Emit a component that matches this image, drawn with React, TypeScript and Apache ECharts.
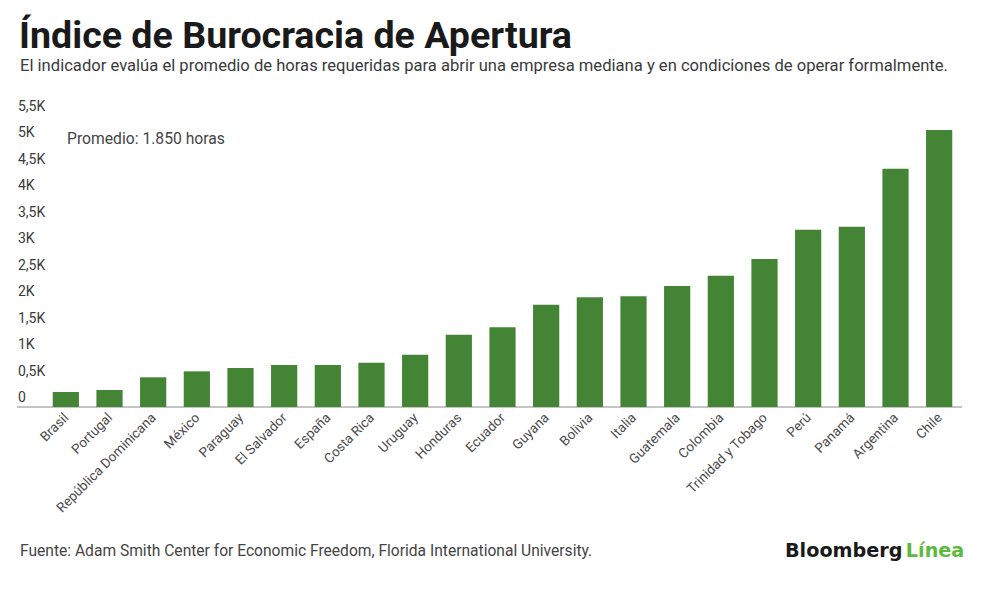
import React, { useEffect, useRef } from "react";
import * as echarts from "echarts";

const categories = [
  "Brasil", "Portugal", "República Dominicana", "México", "Paraguay", "El Salvador",
  "España", "Costa Rica", "Uruguay", "Honduras", "Ecuador", "Guyana", "Bolivia",
  "Italia", "Guatemala", "Colombia", "Trinidad y Tobago", "Perú", "Panamá",
  "Argentina", "Chile",
];
const hours = [
  283, 321, 561, 674, 737, 794, 794, 838, 989, 1367, 1506, 1934, 2073, 2092,
  2287, 2482, 2797, 3351, 3408, 4504, 5236,
];
const yMin = 0;
const yMax = 5500;
const yInterval = 500;

const titleText = "Índice de Burocracia de Apertura";
const subtitleText =
  "El indicador evalúa el promedio de horas requeridas para abrir una empresa mediana y en condiciones de operar formalmente.";
const averageText = "Promedio: 1.850 horas";
const sourceText = "Fuente: Adam Smith Center for Economic Freedom, Florida International University.";

const fmtTick = (v: number) => (v === 0 ? "0" : String(v / 1000).replace(".", ",") + "K");

export default function App() {
  const ref = useRef<HTMLDivElement>(null);
  useEffect(() => {
    document.body.style.margin = "0";
    if (!ref.current) return;
    const chart = echarts.init(ref.current, undefined, { renderer: "svg" });
    const font = "Roboto, 'Noto Sans', sans-serif";
    chart.setOption({
      animation: false,
      backgroundColor: "#ffffff",
      textStyle: { fontFamily: font },
      grid: { left: 44, right: 39, top: 116, bottom: 195, containLabel: false },
      xAxis: {
        type: "category",
        data: categories,
        axisLine: { show: false },
        axisTick: { show: false },
        axisLabel: {
          interval: 0,
          rotate: 45,
          margin: 8,
          color: "#4a4a4a",
          fontSize: 13.5,
          fontFamily: font,
        },
      },
      yAxis: {
        type: "value",
        min: yMin,
        max: yMax,
        interval: yInterval,
        axisLine: { show: false },
        axisTick: { show: false },
        splitLine: { show: false },
        axisLabel: {
          formatter: fmtTick,
          align: "left",
          verticalAlign: "bottom",
          margin: 26,
          padding: [0, 0, 3, 0],
          color: "#3a3a3a",
          fontSize: 14,
          fontFamily: font,
        },
      },
      series: [
        {
          type: "bar",
          data: hours,
          barCategoryGap: "40%",
          itemStyle: { color: "#438435" },
          silent: true,
        },
      ],
      graphic: [
        {
          type: "line",
          shape: { x1: 17, y1: 407, x2: 962, y2: 407 },
          style: { stroke: "#b0b0b0", lineWidth: 1.5 },
          silent: true,
        },
        {
          type: "text",
          left: 19,
          top: 16,
          style: {
            text: titleText,
            fontFamily: font,
            fontWeight: "bold",
            fontSize: 37.6,
            fill: "#1a1a1a",
          },
        },
        {
          type: "text",
          left: 20,
          top: 57,
          style: {
            text: subtitleText,
            fontFamily: font,
            fontSize: 16.6,
            fill: "#3a3a3a",
          },
        },
        {
          type: "text",
          left: 67,
          top: 130,
          style: {
            text: averageText,
            fontFamily: font,
            fontSize: 15.7,
            fill: "#444444",
          },
        },
        {
          type: "text",
          left: 20,
          top: 543,
          style: {
            text: sourceText,
            fontFamily: font,
            fontSize: 15.6,
            fill: "#444444",
          },
        },
        {
          type: "text",
          left: 785,
          top: 541,
          style: {
            rich: {
              b: { fontFamily: "'DejaVu Sans', sans-serif", fontWeight: "bold", fontSize: 19.2, fill: "#1a1a1a" },
              g: { fontFamily: "'DejaVu Sans', sans-serif", fontWeight: "bold", fontSize: 19.2, fill: "#5cbb3c" },
            },
            text: "{b|Bloomberg} {g|Línea}",
          },
        },
      ],
    });
    return () => chart.dispose();
  }, []);
  return <div ref={ref} style={{ width: 1000, height: 602 }} />;
}
